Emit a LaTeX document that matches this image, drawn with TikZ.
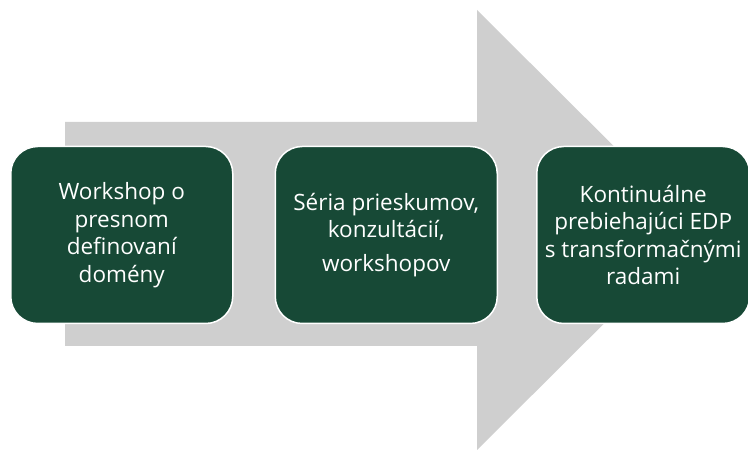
\documentclass[tikz,border=0pt]{standalone}
\usepackage{fontspec}
\setmainfont{Open Sans}
\usetikzlibrary{positioning}

\definecolor{stagegreen}{RGB}{23,73,54}
\definecolor{arrowgrey}{RGB}{207,207,207}

\begin{document}
\begin{tikzpicture}[
    x=1pt, y=1pt,
    node distance=41pt,
    stage/.style={draw=white, line width=1.5pt, fill=stagegreen, rounded corners=27pt,
        minimum width=222pt, minimum height=177pt, align=center, text=white,
        font=\fontsize{22.5}{27.5}\selectfont}
]
\useasboundingbox (0,0) rectangle (748,452);

% Big arrow
\fill[arrowgrey] (65,330) -- (477,330) -- (477,442) -- (698,222) -- (477,2)
    -- (477,106) -- (65,106) -- cycle;

% Stages
\node[stage, anchor=west] (workshop) at (10,217) {Workshop o\\presnom\\definovaní\\domény};
\node[stage, right=of workshop] (survey) {Séria prieskumov,\\konzultácií,\\[6pt]workshopov};
\node[stage, right=38pt of survey, minimum width=213pt] (edp) {Kontinuálne\\prebiehajúci EDP\\s transformačnými\\radami};
\end{tikzpicture}
\end{document}
